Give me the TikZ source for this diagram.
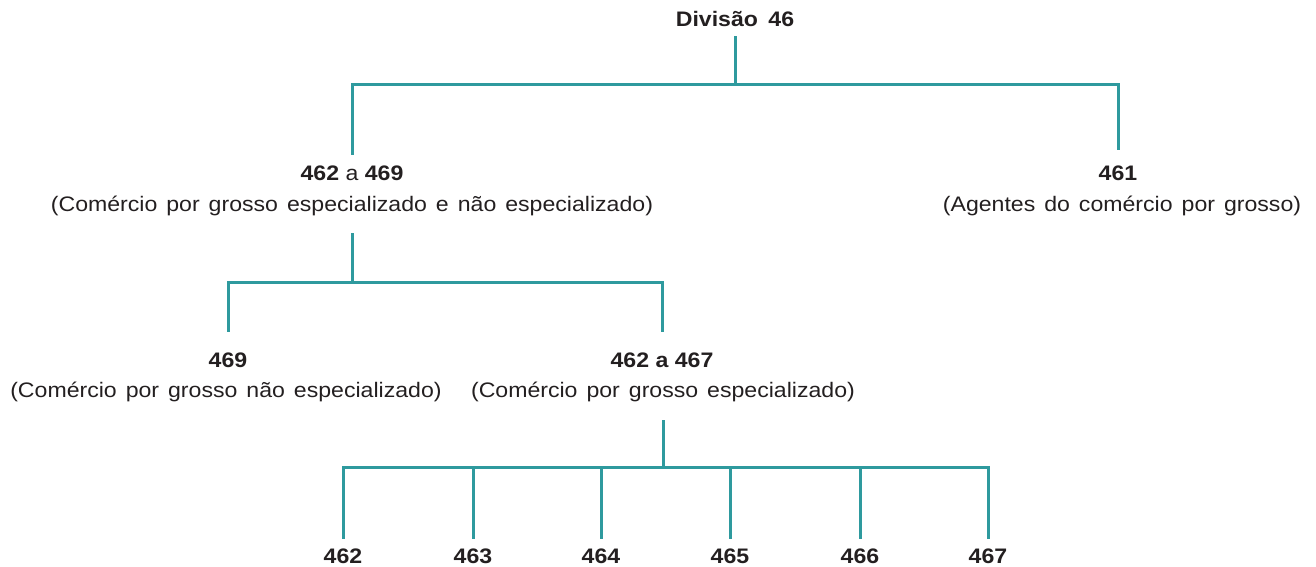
\documentclass[tikz,border=0pt]{standalone}
\usepackage{fontspec}
\setmainfont[FakeStretch=1.1]{Liberation Sans}
\newfontfamily\descfont[FakeStretch=1.1,WordSpace=1.4]{Liberation Sans}
\definecolor{tealline}{HTML}{2E9A9E}
\definecolor{inktext}{HTML}{231F20}
\begin{document}
\begin{tikzpicture}[x=1pt,y=-1pt,
  lbl/.style={inner sep=0pt, anchor=base, text=inktext, font=\fontsize{21}{25}\selectfont, text height=15pt, text depth=0pt},
  num/.style={lbl, font=\fontsize{21}{25}\selectfont\bfseries},
  desc/.style={lbl, font=\fontsize{21}{25}\selectfont\descfont, text depth=4pt},
  link/.style={draw=tealline, line width=3pt}]
\path[use as bounding box] (0,0) rectangle (1316,567);

% labels
\node[num] (d46) at (735,27) {Divisão\hspace{4pt} 46};
\node[lbl] (a) at (352,180) {\textbf{462} a \textbf{469}};
\node[desc] (ad) at (352,211) {(Comércio por grosso especializado e não especializado)};
\node[num] (b) at (1118,180) {461};
\node[desc] (bd) at (1122,211) {(Agentes do comércio por grosso)};
\node[num] (c) at (228,367) {469};
\node[desc] (cd) at (226,397) {(Comércio por grosso não especializado)};
\node[num] (e) at (662,367) {462 a 467};
\node[desc] (ed) at (663,397) {(Comércio por grosso especializado)};
\node[num] (l1) at (343,563) {462};
\node[num] (l2) at (473,563) {463};
\node[num] (l3) at (601,563) {464};
\node[num] (l4) at (730,563) {465};
\node[num] (l5) at (860,563) {466};
\node[num] (l6) at (988,563) {467};

% junctions
\coordinate (j1) at (735,85);
\coordinate (j2) at (352,282);
\coordinate (j3) at (663,467);

% level 1
\draw[link] ([yshift=-9pt]d46.south) -- (j1);
\draw[link] ([yshift=10pt]a.north) |- (j1) -| ([yshift=15pt]b.north);
% level 2
\draw[link] ([yshift=-18pt]ad.south) -- (j2);
\draw[link] ([yshift=20pt]c.north) |- (j2) -| ([yshift=20pt]e.north);
% level 3
\draw[link] ([yshift=-19pt]ed.south) -- (j3);
\draw[link] ([yshift=9pt]l1.north) |- (j3) -| ([yshift=9pt]l6.north);
\foreach \n in {l2,l3,l4,l5}
  \draw[link] ([yshift=9pt]\n.north) -- (\n.north |- j3);
\end{tikzpicture}
\end{document}
